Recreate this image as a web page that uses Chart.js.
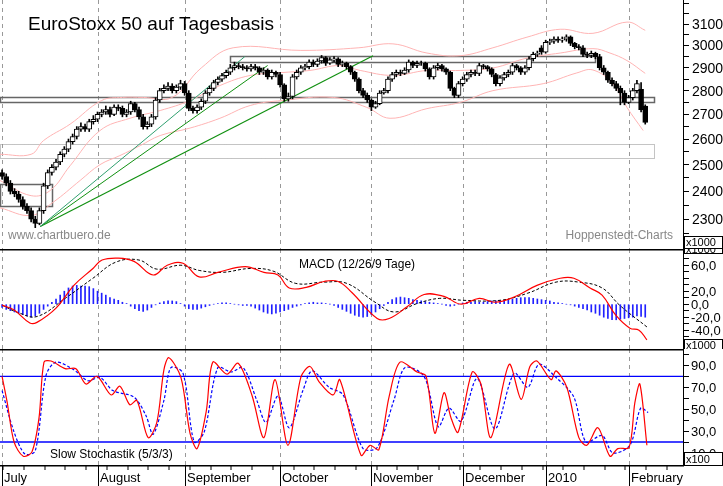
<!DOCTYPE html>
<html><head><meta charset="utf-8">
<script src="https://cdn.jsdelivr.net/npm/chart.js@4"></script>
<style>
html,body{margin:0;padding:0;background:#fff;width:723px;height:486px;overflow:hidden}
canvas{position:absolute;left:0}
</style></head><body>
<canvas id="c1" style="top:0px" width="723" height="249"></canvas>
<canvas id="c2" style="top:249px" width="723" height="100"></canvas>
<canvas id="c3" style="top:349px" width="723" height="137"></canvas>
<script>
const monthLabels=["July","August","September","October","November","December","2010","February"];
const monthDays=[0,23,44,67,89,111,131,151];
const closes=[2455,2430,2400,2390,2370,2345,2330,2300,2285,2330,2420,2470,2490,2510,2540,2560,2590,2610,2640,2650,2640,2670,2680,2700,2710,2720,2700,2730,2725,2700,2710,2745,2720,2690,2650,2660,2690,2760,2800,2810,2820,2800,2815,2830,2790,2725,2715,2730,2755,2790,2810,2835,2850,2865,2880,2900,2910,2905,2900,2895,2905,2900,2880,2890,2860,2880,2870,2825,2765,2775,2860,2880,2900,2905,2925,2915,2930,2945,2920,2935,2940,2915,2920,2905,2880,2850,2800,2780,2760,2730,2745,2790,2800,2850,2870,2880,2875,2890,2925,2910,2920,2920,2895,2860,2900,2910,2895,2880,2810,2780,2830,2850,2870,2880,2875,2910,2905,2895,2870,2830,2855,2870,2880,2910,2900,2880,2900,2940,2960,2965,2970,3015,3020,3030,3025,3030,3040,3010,2995,2990,2960,2955,2965,2950,2900,2880,2845,2830,2810,2790,2750,2770,2800,2830,2720,2667];
const opens=[2470,2455,2430,2400,2390,2370,2345,2330,2300,2285,2330,2420,2470,2490,2510,2540,2560,2590,2610,2640,2650,2640,2670,2680,2700,2710,2720,2700,2730,2725,2700,2710,2745,2720,2690,2650,2660,2690,2760,2800,2810,2820,2800,2815,2830,2790,2725,2715,2730,2755,2790,2810,2835,2850,2865,2880,2900,2910,2905,2900,2895,2905,2900,2880,2890,2860,2880,2870,2825,2765,2775,2860,2880,2900,2905,2925,2915,2930,2945,2920,2935,2940,2915,2920,2905,2880,2850,2800,2780,2760,2730,2745,2790,2800,2850,2870,2880,2875,2890,2925,2910,2920,2920,2895,2860,2900,2910,2895,2880,2810,2780,2830,2850,2870,2880,2875,2910,2905,2895,2870,2830,2855,2870,2880,2910,2900,2880,2900,2940,2960,2990,2970,3015,3020,3030,3025,3030,3040,3010,2995,2990,2960,2955,2965,2950,2900,2880,2845,2830,2810,2790,2750,2770,2800,2806,2735];
const highs=[2480,2465,2440,2410,2400,2380,2355,2340,2310,2340,2430,2480,2500,2520,2550,2570,2600,2620,2650,2665,2660,2680,2695,2710,2720,2735,2730,2740,2740,2735,2720,2755,2750,2730,2700,2670,2700,2770,2810,2825,2835,2830,2825,2845,2840,2800,2735,2740,2765,2800,2820,2845,2860,2875,2890,2915,2925,2920,2915,2910,2915,2915,2905,2900,2895,2890,2885,2880,2830,2790,2870,2890,2910,2915,2935,2935,2940,2955,2950,2945,2950,2945,2930,2925,2910,2885,2855,2810,2790,2765,2755,2800,2810,2860,2880,2890,2890,2900,2935,2930,2930,2930,2925,2900,2910,2920,2915,2900,2885,2815,2840,2860,2880,2890,2890,2920,2915,2910,2900,2875,2865,2880,2890,2920,2915,2905,2910,2950,2970,2975,3000,3025,3030,3040,3040,3040,3050,3045,3015,3005,3000,2970,2975,2970,2960,2910,2885,2855,2840,2820,2800,2780,2810,2845,2835,2740];
const lows=[2445,2420,2390,2380,2360,2335,2320,2290,2270,2280,2320,2410,2460,2480,2500,2530,2550,2580,2600,2630,2630,2630,2660,2670,2690,2700,2690,2695,2715,2690,2690,2700,2710,2680,2640,2640,2650,2680,2750,2790,2800,2790,2790,2805,2780,2715,2705,2705,2720,2745,2780,2800,2825,2840,2855,2870,2890,2895,2890,2885,2885,2890,2870,2870,2850,2850,2860,2815,2755,2755,2765,2850,2870,2890,2895,2905,2905,2920,2910,2915,2925,2905,2905,2895,2870,2840,2790,2770,2750,2715,2725,2740,2785,2790,2840,2860,2865,2870,2880,2900,2900,2910,2885,2850,2850,2890,2885,2870,2800,2770,2770,2820,2840,2860,2865,2865,2895,2885,2860,2820,2820,2845,2860,2870,2890,2870,2870,2890,2930,2950,2960,2965,3005,3010,3015,3015,3020,3000,2985,2980,2950,2945,2945,2940,2890,2870,2835,2820,2800,2740,2740,2745,2760,2790,2710,2660];
const bbUpperDays=[-0.5,7,10,16.4,24,29,34,41,48,55.7,72,86,94.2,102.4,110.4,118.3,126.5,134.5,142.4,150.6,155];
const bbUpper=[2540,2540,2594,2660,2758,2771,2771,2771,2899,2990,2978,2990,3008,2966,2954,2990,3039,3076,3057,3110,3071];
const bbMidDays=[-0.5,7,11.6,16.4,23.6,30.8,38.1,45.3,52.5,59.8,67,74.2,81.4,86.3,94.2,102.4,110.4,118.3,126.5,134.5,142.4,146.5,150.6,155];
const bbMid=[2440,2384,2403,2496,2634,2684,2716,2758,2822,2866,2878,2888,2910,2888,2866,2888,2888,2899,2943,2966,2986,2966,2932,2875];
const bbLowDays=[-0.5,7,12.3,18.8,23.6,28.4,33.3,38.1,45.3,52.5,59.8,67.5,79.8,87.9,93.5,102.4,110.4,118.3,130.4,138.5,142.4,147.2,150.6,154.5];
const bbLow=[2340,2313,2360,2440,2500,2535,2574,2614,2644,2684,2737,2758,2771,2729,2684,2724,2750,2800,2830,2877,2890,2830,2729,2634];
const trendStart={d:9.2,p:2274};
const trendEnds=[{d:58.5,p:2950},{d:64,p:2910},{d:89.4,p:2954}];
const priceTicks=[2300,2400,2500,2600,2700,2800,2900,3000,3100];
const macdDays=[0,2.9,6.7,8.4,13,17.3,21.9,24.1,28,31.8,36.4,39.8,43.6,47.5,52,58.6,63.1,66.5,69.2,73.3,77.6,81,84.3,90.4,93.3,97.6,101.7,106.5,110.6,115,118.8,123.4,128.9,134.5,137.8,141.7,144.6,147.9,151.3,153.5,155.4];
const macdVals=[-1.5,-9,-29,-28,-6,29,55,68,71,66,45,60,63,42,49,58,49,45,25,26,35,35,18,-22,-22,-4,15,12,0,9,3,11,29,40,40,25,14,-17,-37,-40,-55];
const sigDays=[0,3.9,8.4,15.2,21.9,27.5,33,37.3,43.1,47.5,53,59.8,65.3,70.8,77.6,83.1,89.9,94.5,100,105.5,111.1,120,126.7,133.5,139,144.6,148.9,155.4];
const sigVals=[-1.5,-13,-19,9,40,65,68,54,60,52,49,55,51,32,34,32,3,-12,1,9,6,6,17,34,34,25,-2,-35];
const histVals=[-5,-8,-10,-12,-14,-16,-18,-20,-18,-14,-8,-3,3,8,14,20,25,28,29,28,28,27,24,20,17,14,10,8,6,3,1,-3,-7,-10,-11,-9,-5,-1,2,4,5,5,4,1,-3,-7,-8,-8,-6,-4,-2,0,1,2,2,1,0,-1,-2,-2,-3,-6,-9,-12,-14,-15,-14,-12,-10,-8,-5,-3,-1,1,2,3,2,2,1,0,-2,-5,-8,-11,-14,-17,-19,-20,-19,-16,-12,-7,-2,3,7,10,11,10,9,7,6,5,4,3,2,1,0,-2,-3,-2,0,2,3,3,4,3,3,4,5,5,5,6,7,8,9,10,10,10,9,8,7,6,5,3,2,1,0,-1,-3,-5,-7,-9,-12,-14,-17,-20,-22,-24,-24,-23,-22,-21,-20,-18,-19,-20];
const macdTicks=[60,20,0,-20,-40];
const kDays=[0,1.2,2.9,5.1,7.2,8.9,10.1,11.8,15.2,17.8,20.2,22.9,26.3,28.4,30.8,32.5,35.2,37.3,39,40.2,43.1,45.3,47,49.2,50.8,54.2,56.9,60.2,63.1,65.8,68.9,72,74.2,76.4,79.8,81.4,86.5,88.7,90.8,93.3,95.9,100,102.2,104.3,106.5,108.2,109.9,113.3,115.4,117.8,122.2,125.1,127.2,128.9,132.3,133.5,136.1,139,140.9,143.6,146.5,148.4,151.1,152.5,153.7,155.4];
const kVals=[80,57,20,7,11,42,93,94,87,87,73,80,63,71,54,58,24,38,86,97,79,28,14,48,93,82,92,63,24,77,17,79,89,75,63,77,8,17,13,62,93,84,80,28,65,42,29,84,73,24,91,59,89,94,77,85,70,24,17,33,7,14,15,56,73,17];
const dDays=[0,2.9,5.5,8,10.6,13,17.3,20.7,23.6,26.7,31.8,34.7,36.4,39,40.7,43.6,46.3,48.7,52,55.2,58.1,61.4,63.6,66.5,69.2,72.5,74.7,78.8,82.2,87,90.4,94.5,97.1,101.7,105.1,107.7,110.6,114.5,118.8,123.4,126.7,129.4,133.5,137.8,140.7,144.6,147.2,151.3,153.9,155.7];
const dVals=[67,29,9,12,81,93,86,76,79,67,61,44,27,58,88,83,20,29,88,84,88,58,38,62,33,67,85,70,63,14,15,59,88,80,34,51,39,78,32,83,70,91,79,61,20,26,10,17,51,47];
const stochLevels=[80,20];
const stochTicks=[90,70,50,30,10];

const FONT="Liberation Sans, Arial, sans-serif";
const XMIN=-0.5, XMAX=164.1;
const pts=(xs,ys)=>xs.map((x,i)=>({x,y:ys[i]}));
const days=closes.map((_,i)=>i);
function xScale(){return {type:'linear',min:XMIN,max:XMAX,display:false,offset:false};}
function fitY(s){s.width=40;}
function yAxis(type,min,max,step,from,to){return {type,position:'right',min,max,afterFit:fitY,
 afterBuildTicks(s){const t=[];for(let v=from;v<=to;v+=step)t.push({value:v});s.ticks=t;},
 ticks:{display:false},grid:{drawOnChartArea:false,tickLength:6,color:'#000'},border:{display:true,color:'#000'}};}
function axisLabels(id,vals,fmt,size,dx){return {id,afterDraw(c){const y=c.scales.y,ctx=c.ctx,a=c.chartArea;ctx.save();ctx.fillStyle='#000';ctx.font=size+'px '+FONT;ctx.textBaseline='middle';
 vals.forEach(v=>ctx.fillText(fmt(v),a.right+dx,y.getPixelForValue(v)+1));ctx.restore();}};}
const monthGrid={id:'mg',beforeDatasetsDraw(c){const x=c.scales.x,a=c.chartArea,ctx=c.ctx;ctx.save();ctx.strokeStyle='#999';ctx.lineWidth=1;ctx.setLineDash([4,4]);
 monthDays.forEach(d=>{const px=Math.round(x.getPixelForValue(d))+0.5;ctx.beginPath();ctx.moveTo(px,a.top);ctx.lineTo(px,a.bottom);ctx.stroke();});ctx.restore();}};
function boxLabel(ctx,txt,x,y,w,h){ctx.save();ctx.fillStyle='#fff';ctx.fillRect(x,y,w,h);ctx.strokeStyle='#000';ctx.lineWidth=1;ctx.strokeRect(x+0.5,y+0.5,w,h);ctx.fillStyle='#000';ctx.font='11px '+FONT;ctx.textBaseline='middle';ctx.fillText(txt,x+2,y+h/2+1);ctx.restore();}

// MAIN
const mainExtras={id:'me',beforeDatasetsDraw(c){const x=c.scales.x,y=c.scales.y,ctx=c.ctx;ctx.save();
 const boxes=[{d0:-0.5,d1:12,p0:2348,p1:2428,dash:false},{d0:55,d1:143,p0:2925,p1:2954,dash:false},{d0:-0.5,d1:157,p0:2754,p1:2775,dash:false},{d0:-0.5,d1:157,p0:2527,p1:2582,dash:true}];
 boxes.forEach(b=>{const x0=x.getPixelForValue(b.d0),x1=x.getPixelForValue(b.d1),y0=y.getPixelForValue(b.p1),y1=y.getPixelForValue(b.p0);
  ctx.strokeStyle=b.dash?'#888':'#666';ctx.lineWidth=b.dash?1:1.5;ctx.setLineDash(b.dash?[1,1]:[]);ctx.strokeRect(Math.round(x0)+0.5,Math.round(y0)+0.5,Math.round(x1-x0),Math.round(y1-y0));});
 ctx.restore();},
 afterDraw(c){const ctx=c.ctx;ctx.save();ctx.fillStyle='#000';ctx.font='19px '+FONT;ctx.textBaseline='alphabetic';ctx.fillText('EuroStoxx 50 auf Tagesbasis',28,30);
 ctx.fillStyle='#888';ctx.font='12px '+FONT;ctx.fillText('www.chartbuero.de',8,239);ctx.textAlign='right';ctx.fillText('Hoppenstedt-Charts',673,239);ctx.restore();
 boxLabel(c.ctx,'x1000',684,236,38,12);}};
const bodyColor=ctx=>{const i=ctx.dataIndex;return closes[i]>=opens[i]?'#fff':'#000';};
new Chart(document.getElementById('c1'),{
 data:{datasets:[
  {type:'line',data:pts(bbUpperDays,bbUpper),borderColor:'#ffb4b4',borderWidth:1,pointRadius:0,tension:0.4,order:5},
  {type:'line',data:pts(bbMidDays,bbMid),borderColor:'#ffb4b4',borderWidth:1,pointRadius:0,tension:0.4,order:5},
  {type:'line',data:pts(bbLowDays,bbLow),borderColor:'#ffb4b4',borderWidth:1,pointRadius:0,tension:0.4,order:5},
  {type:'line',data:[{x:trendStart.d,y:trendStart.p},{x:trendEnds[0].d,y:trendEnds[0].p}],borderColor:'#30a070',borderWidth:1,pointRadius:0,order:4},
  {type:'line',data:[{x:trendStart.d,y:trendStart.p},{x:trendEnds[1].d,y:trendEnds[1].p}],borderColor:'#109010',borderWidth:1,pointRadius:0,order:4},
  {type:'line',data:[{x:trendStart.d,y:trendStart.p},{x:trendEnds[2].d,y:trendEnds[2].p}],borderColor:'#109010',borderWidth:1.2,pointRadius:0,order:4},
  {type:'bar',data:days.map(i=>({x:i,y:[lows[i],highs[i]]})),backgroundColor:'#000',barThickness:1,grouped:false,order:3},
  {type:'bar',data:days.map(i=>({x:i,y:[Math.min(opens[i],closes[i]),Math.max(opens[i],closes[i])]})),backgroundColor:bodyColor,borderColor:'#000',borderWidth:1,borderSkipped:false,barThickness:5,grouped:false,order:2}
 ]},
 options:{animation:false,responsive:false,events:[],layout:{padding:0},plugins:{legend:{display:false},tooltip:{enabled:false}},
  scales:{x:xScale(),y:yAxis('logarithmic',2197,3217,50,2200,3200)}},
 plugins:[monthGrid,mainExtras,axisLabels('al1',priceTicks,v=>String(v),14,9)]});

// MACD
const macdExtras={id:'mx',afterDraw(c){const ctx=c.ctx;ctx.save();ctx.fillStyle='#000';ctx.font='12px '+FONT;ctx.fillText('MACD (12/26/9 Tage)',299,19);
 ctx.fillRect(0,0,684,1.5);ctx.restore();boxLabel(c.ctx,'x1000',684,90,38,11);boxLabel(c.ctx,'x1000',684,-4,38,8);}};
new Chart(document.getElementById('c2'),{
 data:{datasets:[
  {type:'bar',data:days.map(i=>({x:i,y:histVals[i]})),backgroundColor:'#2020ff',barThickness:1,grouped:false,order:3},
  {type:'line',data:pts(sigDays,sigVals),borderColor:'#000',borderDash:[3,2],borderWidth:1,pointRadius:0,tension:0.4,order:2},
  {type:'line',data:pts(macdDays,macdVals),borderColor:'#ff0000',borderWidth:1.2,pointRadius:0,tension:0.4,order:1}
 ]},
 options:{animation:false,responsive:false,events:[],layout:{padding:0},plugins:{legend:{display:false},tooltip:{enabled:false}},
  scales:{x:xScale(),y:yAxis('linear',-69,85,10,-60,80)}},
 plugins:[monthGrid,axisLabels('al2',macdTicks,v=>v+',0',13,8),macdExtras]});

// STOCH
const stochExtras={id:'sx',afterDraw(c){const ctx=c.ctx,x=c.scales.x,a=c.chartArea;ctx.save();ctx.fillStyle='#000';
 ctx.fillRect(0,0,684,1.5);ctx.fillRect(0,a.bottom,684,1.5);
 ctx.font='12px '+FONT;ctx.fillText('Slow Stochastik (5/3/3)',50,109);
 ctx.font='13px '+FONT;ctx.textBaseline='alphabetic';
 for(let d=0;d<=160;d+=5){const px=Math.round(x.getPixelForValue(d))+0.5;ctx.fillRect(px,a.bottom,1,5);}
 monthDays.forEach((d,i)=>{const px=Math.round(x.getPixelForValue(d));ctx.fillRect(px,a.bottom,1,21);ctx.fillText(monthLabels[i],px+2,133);});
 ctx.restore();boxLabel(c.ctx,'x100',684,103,38,13);}};
new Chart(document.getElementById('c3'),{
 data:{datasets:[
  {type:'line',data:[{x:XMIN,y:stochLevels[0]},{x:XMAX,y:stochLevels[0]}],borderColor:'#0000ff',borderWidth:1.3,pointRadius:0,order:3},
  {type:'line',data:[{x:XMIN,y:stochLevels[1]},{x:XMAX,y:stochLevels[1]}],borderColor:'#0000ff',borderWidth:1.3,pointRadius:0,order:3},
  {type:'line',data:pts(dDays,dVals),borderColor:'#0000ff',borderDash:[3,2],borderWidth:1.2,pointRadius:0,tension:0.3,order:2},
  {type:'line',data:pts(kDays,kVals),borderColor:'#ff0000',borderWidth:1.2,pointRadius:0,tension:0.3,order:1}
 ]},
 options:{animation:false,responsive:false,events:[],layout:{padding:{bottom:21}},plugins:{legend:{display:false},tooltip:{enabled:false}},
  scales:{x:xScale(),y:yAxis('linear',-1,105,10,0,100)}},
 plugins:[monthGrid,axisLabels('al3',stochTicks,v=>v+',0',13,8),stochExtras]});
</script></body></html>
